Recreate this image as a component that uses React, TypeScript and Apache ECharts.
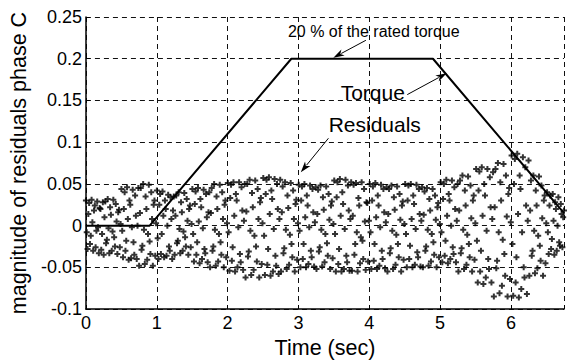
import React, { useEffect, useRef } from "react";
import * as echarts from "echarts";

// ---- data ----
const xTickValues = [0, 1, 2, 3, 4, 5, 6];
const timeMax = 6.75;
const torqueTime = [0, 0.9, 2.9, 4.9, 6.75];
const torqueValue = [0, 0, 0.2, 0.2, 0.015];

// residuals (thousandths), uniformly sampled from t = 0 to t = 6.75 s
const residualsMilli = [
  30, -8, -28, 14, 27, -22, -12, 31, 4, -30, 18, 24, -26, -6, 29, -2, -33, 21, 20, -29, -10, 28,
  -35, 10, 29, -21, -17, 32, -3, -33, 22, 13, -30, -7, 31, -14, -25, 26, 5, -34, 16, 19, -26, 2,
  44, -6, -38, 20, 40, -30, -18, 46, 8, -41, 30, 25, -39, -2, 43, -20, -35, 36, 12, -40, 0, 45,
  -48, 15, 45, -29, -24, 50, -5, -46, 35, 20, -41, -10, 49, -19, -34, 40, 8, -48, 25, 30, -36, 3,
  42, -15, -40, 25, 38, -34, -10, 41, 12, -38, 30, 20, -36, 0, 37, -25, -30, 34, 8, -40, 18, 35,
  -35, 12, 36, -21, -18, 40, -4, -33, 28, 16, -30, -7, 39, -14, -25, 32, 6, -35, 20, 24, -26, 2,
  44, -10, -43, 26, 41, -35, -20, 45, 5, -45, 32, 22, -40, -3, 43, -28, -33, 38, 10, -44, 16, 40,
  -50, 15, 45, -30, -25, 50, -5, -48, 35, 20, -43, -10, 49, -20, -35, 40, 8, -50, 25, 30, -38, 3,
  51, -8, -54, 33, 49, -42, -26, 52, 12, -55, 38, 30, -50, -2, 52, -34, -44, 46, 18, -53, 6, 50,
  -62, 17, 50, -37, -31, 55, -6, -59, 39, 22, -53, -12, 54, -25, -43, 44, 8, -62, 28, 33, -46, 3,
  57, -12, -59, 38, 55, -47, -28, 58, 14, -60, 42, 32, -55, -4, 56, -36, -48, 50, 20, -58, 8, 55,
  -55, 16, 47, -33, -27, 52, -5, -52, 36, 21, -47, -11, 51, -22, -38, 42, 8, -55, 26, 31, -41, 3,
  49, -6, -50, 30, 47, -40, -22, 50, 10, -50, 36, 24, -46, -2, 48, -30, -38, 44, 16, -49, 4, 46,
  -52, 14, 43, -31, -26, 48, -5, -49, 34, 19, -44, -10, 47, -21, -36, 38, 7, -52, 24, 29, -39, 2,
  54, -10, -55, 34, 52, -46, -28, 56, 12, -55, 40, 26, -52, -4, 55, -36, -44, 48, 18, -54, 8, 52,
  -54, 12, 49, -35, -22, 51, -8, -55, 33, 24, -45, -14, 52, -18, -40, 44, 5, -53, 28, 27, -43, 6,
  50, -8, -52, 30, 47, -42, -22, 51, 10, -52, 36, 24, -48, -2, 49, -30, -40, 44, 16, -51, 4, 46,
  -55, 14, 44, -33, -27, 48, -6, -52, 34, 19, -47, -11, 47, -22, -38, 38, 7, -55, 24, 29, -41, 2,
  50, -10, -50, 30, 48, -40, -24, 50, 8, -50, 36, 26, -47, -4, 49, -32, -38, 44, 14, -49, 6, 46,
  -50, 13, 41, -30, -25, 45, -5, -48, 32, 18, -43, -10, 44, -20, -35, 36, 7, -50, 22, 27, -38, 2,
  52, -8, -44, 32, 50, -36, -18, 55, 12, -45, 38, 30, -40, 0, 54, -26, -34, 46, 20, -44, 6, 50,
  -55, 18, 54, -33, -27, 60, -5, -52, 42, 24, -47, -11, 59, -22, -38, 48, 9, -55, 30, 36, -41, 3,
  68, -18, -68, 42, 65, -55, -30, 70, 12, -70, 50, 36, -62, -6, 68, -40, -52, 58, 22, -68, 8, 64,
  -85, 22, 68, -51, -42, 75, -8, -81, 52, 30, -72, -17, 74, -34, -60, 60, 11, -85, 38, 45, -64, 4,
  84, -22, -84, 50, 80, -68, -38, 86, 14, -86, 60, 44, -76, -8, 82, -50, -62, 70, 24, -82, 6, 78,
  -60, 18, 54, -36, -30, 60, -6, -57, 42, 24, -51, -12, 59, -24, -42, 48, 9, -60, 30, 36, -45, 3,
  40, -8, -34, 24, 36, -28, -16, 38, 6, -35, 28, 20, -30, 0, 34, -20, -24, 26, 14, -26, 10, 18,
];

// annotations (data coordinates)
const annotationLabels = ["20 % of the rated torque", "Torque", "Residuals"];
const annotationAnchors: number[][] = [[4.064, 0.2326], [4.05, 0.1593], [4.078, 0.1209]];
const arrowFrom: number[][] = [[3.953, 0.2221], [4.537, 0.157], [3.424, 0.1047]];
const arrowTo: number[][] = [[3.493, 0.2012], [5.094, 0.1826], [3.034, 0.064]];

const FONT = "'Liberation Sans', Arial, Helvetica, sans-serif";
const PLUS = "path://M2,0H4V2H6V4H4V6H2V4H0V2H2Z";

export default function App() {
  const ref = useRef<HTMLDivElement>(null);

  useEffect(() => {
    if (!ref.current) return;
    const chart = echarts.init(ref.current, undefined, { renderer: "svg" });
    const n = residualsMilli.length;
    const residualData = residualsMilli.map((v, i) => [(i * timeMax) / (n - 1), v / 1000]);
    const torqueData = torqueTime.map((t, i) => [t, torqueValue[i]]);

    const dashed = { type: [5, 4] as any, color: "#111", width: 1 };

    chart.setOption({
      animation: false,
      grid: { left: 82, right: 0, top: 17, bottom: 46, containLabel: false },
      xAxis: {
        type: "value",
        min: 0,
        max: timeMax,
        interval: 1,
        name: "Time (sec)",
        nameLocation: "middle",
        nameGap: 25,
        nameTextStyle: { fontSize: 21.5, fontFamily: FONT, color: "#000" },
        axisLine: { show: true, onZero: false, lineStyle: { color: "#000", width: 1.5 } },
        axisTick: { show: true, inside: true, length: 4, lineStyle: { color: "#000" } },
        axisLabel: {
          fontSize: 18,
          fontFamily: FONT,
          color: "#000",
          margin: 5,
          formatter: (v: number) => (xTickValues.includes(v) ? String(v) : ""),
        },
        splitLine: { show: true, lineStyle: dashed },
      },
      yAxis: {
        type: "value",
        min: -0.1,
        max: 0.25,
        interval: 0.05,
        name: "magnitude of residuals phase C",
        nameLocation: "middle",
        nameGap: 53,
        nameTextStyle: { fontSize: 21.5, fontFamily: FONT, color: "#000" },
        axisLine: { show: true, onZero: false, lineStyle: { color: "#000", width: 1.5 } },
        axisTick: { show: true, inside: true, length: 4, lineStyle: { color: "#000" } },
        axisLabel: {
          fontSize: 18,
          fontFamily: FONT,
          color: "#000",
          margin: 4,
          formatter: (v: number) => String(Math.round(v * 100) / 100),
        },
        splitLine: { show: true, lineStyle: dashed },
      },
      series: [
        {
          type: "scatter",
          data: residualData,
          symbol: PLUS,
          symbolSize: 6,
          itemStyle: { color: "#000" },
          silent: true,
          z: 2,
        },
        {
          type: "line",
          data: torqueData,
          showSymbol: false,
          symbol: "none",
          lineStyle: { color: "#000", width: 2 },
          silent: true,
          z: 3,
        },
      ],
    });

    const px = (p: number[]) => chart.convertToPixel({ gridIndex: 0 }, p) as number[];
    const graphics: any[] = [];
    annotationLabels.forEach((text, i) => {
      const [x, y] = px(annotationAnchors[i]);
      graphics.push({
        type: "text",
        x,
        y,
        style: {
          text,
          fontSize: i === 0 ? 16 : 21,
          fontFamily: FONT,
          fill: "#000",
          align: "center",
          verticalAlign: "middle",
        },
        z: 10,
      });
    });
    arrowFrom.forEach((f, i) => {
      const s = px(f);
      const t = px(arrowTo[i]);
      const dx = t[0] - s[0];
      const dy = t[1] - s[1];
      const len = Math.hypot(dx, dy);
      const ux = dx / len;
      const uy = dy / len;
      const hl = 11;
      const hw = 3.5;
      const bx = t[0] - ux * hl;
      const by = t[1] - uy * hl;
      graphics.push({
        type: "line",
        shape: { x1: s[0], y1: s[1], x2: bx + ux * 2, y2: by + uy * 2 },
        style: { stroke: "#000", lineWidth: 1 },
        z: 10,
      });
      graphics.push({
        type: "polygon",
        shape: {
          points: [
            [t[0], t[1]],
            [bx - uy * hw, by + ux * hw],
            [bx + ux * 3, by + uy * 3],
            [bx + uy * hw, by - ux * hw],
          ],
        },
        style: { fill: "#000" },
        z: 10,
      });
    });
    chart.setOption({ graphic: graphics });

    return () => chart.dispose();
  }, []);

  return (
    <div
      ref={ref}
      style={{ position: "fixed", left: 0, top: 0, width: 567, height: 364, background: "#fff" }}
    />
  );
}
